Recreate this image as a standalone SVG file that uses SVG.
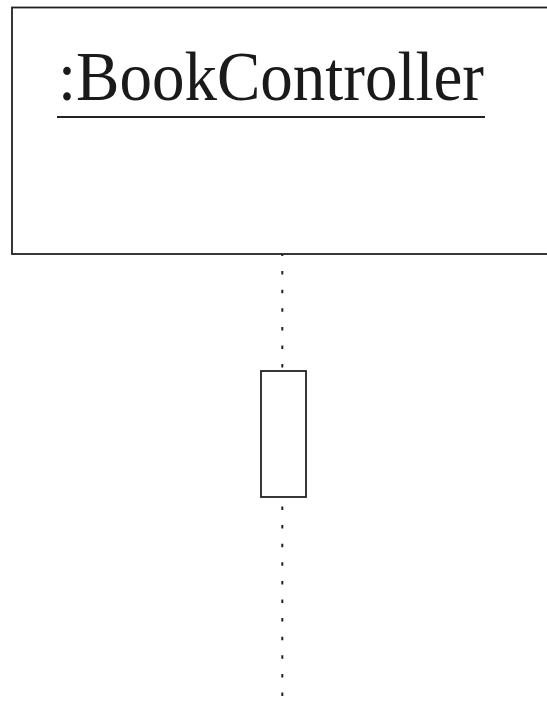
<svg xmlns="http://www.w3.org/2000/svg" width="547" height="711" viewBox="0 0 547 711">
  <style>
    .box { fill: #ffffff; stroke: #222222; stroke-width: 1.8; }
    .label { font-family: "Liberation Serif", "Times New Roman", serif; font-size: 70px; fill: #1a1a1a; }
    .underline { stroke: #222222; stroke-width: 1.8; }
    .lifeline { stroke: #222222; stroke-width: 2; stroke-dasharray: 3.5 15.1; fill: none; }
  </style>
  <rect x="0" y="0" width="547" height="711" fill="#ffffff"/>
  <g id="connectors">
    <line class="lifeline" x1="282.3" y1="252.5" x2="282.3" y2="371"/>
    <line class="lifeline" x1="282.3" y1="506.5" x2="282.3" y2="711"/>
  </g>
  <g id="bookcontroller">
    <rect class="box" x="12" y="7.5" width="545" height="246.5"/>
    <text class="label" x="58" y="100" textLength="426" lengthAdjust="spacingAndGlyphs">:BookController</text>
    <line class="underline" x1="57" y1="117" x2="485" y2="117"/>
  </g>
  <g id="activation">
    <rect class="box" x="261" y="371" width="45" height="126"/>
  </g>
</svg>
